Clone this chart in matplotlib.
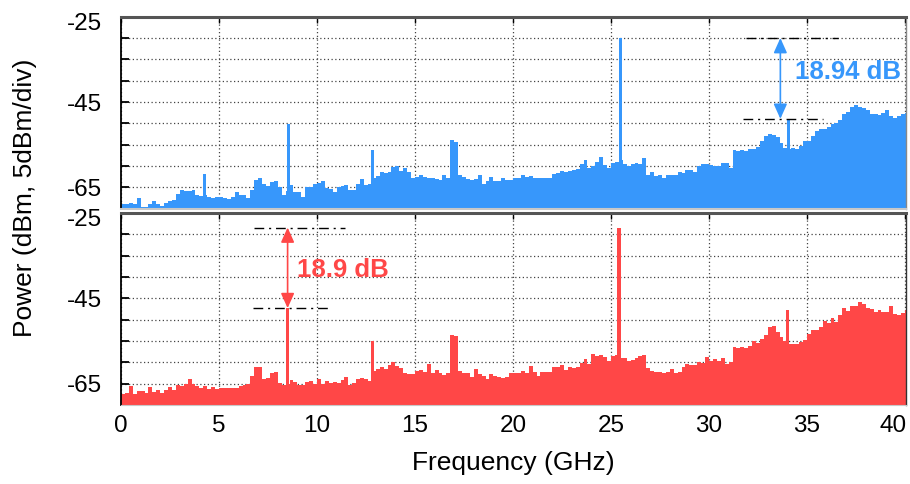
import numpy as np
import matplotlib
matplotlib.use("Agg")
import matplotlib.pyplot as plt
from matplotlib.transforms import ScaledTranslation

plt.rcParams['font.family'] = ['Liberation Sans', 'DejaVu Sans']

# ---------------- data ----------------
FREQ_STEP = 0.2          # GHz per analyser bin (left edges start at 0 GHz)
Y_MIN, Y_MAX = -70, -25

# noise floor of the blue trace (dBm), one value per bin
blue_floor = [
    -68.8, -68.8, -68.6, -69.0, -67.5, -69.5, -69.6, -68.9, -68.1, -68.8,
    -69.3, -68.7, -68.1, -68.0, -66.5, -65.5, -65.9, -65.8, -65.6, -66.8,
    -67.0, -66.9, -67.3, -67.4, -67.2, -67.2, -67.5, -67.7, -67.2, -66.0,
    -66.9, -66.9, -67.4, -65.5, -63.3, -62.8, -64.3, -64.6, -63.8, -63.4,
    -64.8, -66.9, -65.9, -64.5, -66.2, -66.2, -67.2, -65.0, -64.9, -64.2,
    -64.0, -63.5, -65.1, -65.4, -66.2, -64.8, -64.6, -64.4, -65.6, -65.5,
    -64.2, -63.0, -64.5, -64.3, -62.9, -62.4, -61.3, -61.7, -61.4, -60.3,
    -60.1, -61.2, -60.4, -61.5, -62.9, -62.6, -62.0, -62.6, -62.7, -62.9,
    -63.1, -63.3, -62.2, -62.7, -54.0, -54.3, -62.0, -62.6, -63.0, -63.3,
    -63.0, -62.1, -64.3, -63.4, -62.5, -63.5, -63.5, -62.8, -63.3, -63.2,
    -62.8, -62.7, -62.0, -62.5, -62.3, -62.7, -62.7, -62.7, -62.8, -62.8,
    -61.8, -61.6, -61.2, -61.4, -61.1, -61.0, -60.6, -59.6, -58.6, -60.5,
    -60.0, -59.0, -57.8, -59.8, -60.5, -59.3, -59.0, -58.5, -59.6, -60.0,
    -59.6, -59.4, -59.6, -58.0, -62.0, -61.4, -62.3, -62.2, -62.7, -62.2,
    -62.2, -62.0, -61.5, -61.6, -61.0, -61.0, -61.3, -60.0, -59.5, -59.6,
    -59.8, -60.1, -60.1, -59.2, -59.3, -60.4, -56.2, -56.5, -56.3, -56.5,
    -55.9, -56.0, -55.5, -54.2, -53.0, -52.5, -52.8, -53.3, -54.6, -55.7,
    -56.0, -55.8, -56.1, -55.2, -54.2, -54.2, -53.0, -51.8, -51.4, -51.25,
    -50.8, -50.2, -49.9, -49.2, -47.8, -47.3, -46.1, -45.7, -46.2, -46.5,
    -46.8, -47.7, -47.8, -48.0, -47.6, -46.9, -48.2, -48.8, -48.3, -47.8,
    -47.6,
]

# noise floor of the red trace (dBm), one value per bin
red_floor = [
    -67.5, -67.1, -65.5, -67.4, -66.8, -66.7, -67.2, -65.8, -66.9, -66.5,
    -67.1, -66.5, -65.8, -66.6, -65.2, -65.5, -65.0, -63.8, -65.1, -65.5,
    -66.1, -65.6, -66.2, -65.8, -66.3, -66.1, -65.9, -65.9, -66.1, -66.1,
    -65.5, -65.3, -65.1, -63.3, -61.0, -61.2, -63.9, -63.6, -62.4, -62.3,
    -64.9, -65.2, -65.1, -64.2, -64.6, -65.4, -65.3, -64.5, -64.4, -65.0,
    -64.0, -65.0, -64.4, -64.8, -64.7, -64.8, -64.1, -63.5, -65.4, -64.9,
    -64.0, -63.6, -63.8, -64.4, -62.0, -61.5, -61.2, -61.6, -60.7, -59.9,
    -60.9, -61.4, -62.4, -62.8, -62.7, -62.1, -61.8, -62.3, -60.3, -62.5,
    -61.8, -62.5, -62.9, -62.6, -53.6, -53.9, -62.0, -62.6, -62.6, -63.4,
    -61.5, -62.8, -63.3, -64.0, -62.8, -63.1, -63.5, -63.6, -63.5, -62.5,
    -62.4, -62.4, -62.0, -62.6, -60.8, -62.2, -63.2, -62.3, -62.3, -62.2,
    -61.0, -61.0, -60.6, -61.9, -61.2, -61.3, -61.2, -60.2, -59.2, -60.5,
    -58.0, -58.4, -58.2, -58.8, -59.8, -58.6, -58.2, -59.0, -59.0, -59.8,
    -59.4, -59.0, -58.6, -58.2, -61.4, -62.0, -62.2, -62.3, -62.5, -62.2,
    -61.6, -62.4, -62.3, -61.0, -60.3, -60.7, -60.7, -60.0, -60.2, -58.8,
    -59.8, -59.3, -59.6, -59.0, -60.4, -60.0, -56.4, -56.7, -56.4, -56.6,
    -56.1, -55.0, -55.4, -54.6, -53.5, -51.8, -51.5, -53.0, -54.0, -55.1,
    -55.6, -55.6, -55.8, -55.2, -54.7, -53.4, -52.4, -52.5, -51.8, -50.3,
    -50.8, -49.6, -50.6, -48.8, -47.3, -47.9, -46.8, -46.8, -45.8, -46.3,
    -47.3, -47.5, -48.2, -47.7, -48.1, -48.1, -46.8, -48.7, -48.9, -48.5,
    -47.8,
]

# discrete tones above the floor: frequency (GHz) and peak power (dBm)
blue_tone_freq = [4.27, 8.55, 12.82, 25.47, 34.05]
blue_tone_power = [-61.8, -50.2, -56.25, -30.0, -48.94]
red_tone_freq = [8.50, 12.82, 25.41, 33.99]
red_tone_power = [-47.3, -55.1, -28.4, -47.8]

x_ticks = [0, 5, 10, 15, 20, 25, 30, 35, 40]
y_ticks = [-70, -65, -60, -55, -50, -45, -40, -35, -30, -25]
y_labeled = [-25, -45, -65]

BLUE = '#3797FB'
RED = '#FF4747'
TONE_WIDTH = 0.17

# ---------------- figure ----------------
W, H = 910, 484
fig = plt.figure(figsize=(W / 100, H / 100), dpi=100)


def frame(px_left, px_top, px_right, px_bottom):
    return [px_left / W, 1 - px_bottom / H, (px_right - px_left) / W,
            (px_bottom - px_top) / H]


ax_top = fig.add_axes(frame(121, 16.7, 906, 208.7))
ax_bot = fig.add_axes(frame(121, 213, 906, 405))


def draw_panel(ax, floor, tone_f, tone_p, color):
    freq = np.arange(len(floor)) * FREQ_STEP
    floor = np.asarray(floor)
    ax.bar(freq, floor - Y_MIN, bottom=Y_MIN, width=FREQ_STEP, align='edge',
           color=color, linewidth=0, zorder=2)
    ax.bar(tone_f, np.asarray(tone_p) - Y_MIN, bottom=Y_MIN, width=TONE_WIDTH,
           align='center', color=color, linewidth=0, zorder=2)
    ax.set_xlim(0, 40.05)
    ax.set_ylim(Y_MIN, Y_MAX)
    ax.set_xticks(x_ticks)
    ax.set_yticks(y_ticks, [f"{t}" if t in y_labeled else "" for t in y_ticks])
    ax.set_axisbelow(True)
    ax.grid(True, linestyle=(0, (1, 2)), color='#444444', linewidth=0.9)
    ax.tick_params(axis='y', direction='in', length=6, width=1.3, pad=14,
                   labelsize=17.5, right=False)
    ax.tick_params(axis='x', direction='in', length=4, width=1.0, pad=7,
                   labelsize=17.5, top=True)
    ax.spines['left'].set_color('black')
    ax.spines['left'].set_linewidth(1.3)
    ax.spines['top'].set_color('#555555')
    ax.spines['top'].set_linewidth(2.2)
    # the -25 label sits a little below its grid line
    for lab in ax.get_yticklabels():
        if lab.get_text() == '-25':
            lab.set_transform(lab.get_transform() +
                              ScaledTranslation(0, -5 / 100, fig.dpi_scale_trans))


draw_panel(ax_top, blue_floor, blue_tone_freq, blue_tone_power, BLUE)
draw_panel(ax_bot, red_floor, red_tone_freq, red_tone_power, RED)

ax_top.tick_params(axis='x', labelbottom=False)
ax_top.spines['right'].set_color('#888888')
ax_top.spines['right'].set_linewidth(1.0)
ax_top.spines['bottom'].set_color('#c8c8c8')
ax_top.spines['bottom'].set_linewidth(1.5)
ax_bot.spines['right'].set_color('#333333')
ax_bot.spines['right'].set_linewidth(1.0)
ax_bot.spines['bottom'].set_color('#c8c8c8')

# last frequency label is flush with the right edge
xlabels = ax_bot.get_xticklabels()
xlabels[-1].set_horizontalalignment('right')
xlabels[-1].set_transform(xlabels[-1].get_transform() +
                          ScaledTranslation(0.02, 0, fig.dpi_scale_trans))

# ---------------- power-difference markers ----------------
DASHDOT = (0, (7, 3.5, 1.5, 3.5))


def difference_marker(ax, x_arrow, top_db, low_db, top_span, low_span,
                      text, text_xy, color):
    ax.plot(top_span, [top_db, top_db], color='black', lw=1.0,
            linestyle=DASHDOT, zorder=3)
    ax.plot(low_span, [low_db, low_db], color='black', lw=1.0,
            linestyle=DASHDOT, zorder=3)
    ax.annotate('', xy=(x_arrow, low_db), xytext=(x_arrow, top_db),
                arrowprops=dict(arrowstyle='<|-|>,head_length=0.6,head_width=0.27',
                                color=color, lw=1.2, shrinkA=0, shrinkB=0,
                                mutation_scale=15),
                zorder=4)
    ax.text(text_xy[0], text_xy[1], text, color=color, fontsize=18.5,
            fontweight='bold', ha='left', va='center', zorder=4)


blue_carrier = blue_tone_power[3]
blue_spur = blue_tone_power[4]
difference_marker(ax_top, 33.64, blue_carrier, blue_spur,
                  [31.9, 36.6], [31.75, 35.8],
                  f"{blue_carrier - blue_spur:.2f} dB", (34.4, -38.0), BLUE)

red_carrier = red_tone_power[2]
red_spur = red_tone_power[0]
difference_marker(ax_bot, red_tone_freq[0], red_carrier, red_spur,
                  [6.8, 11.45], [6.73, 10.66],
                  f"{red_carrier - red_spur:.1f} dB", (8.98, -38.4), RED)

# ---------------- axis titles ----------------
fig.text(513 / W, 1 - 463 / H, 'Frequency (GHz)', ha='center', va='center',
         fontsize=19)
fig.text(25 / W, 1 - 198 / H, 'Power (dBm, 5dBm/div)', ha='center',
         va='center', rotation=90, fontsize=19)

fig.savefig('out.png', dpi=100)
